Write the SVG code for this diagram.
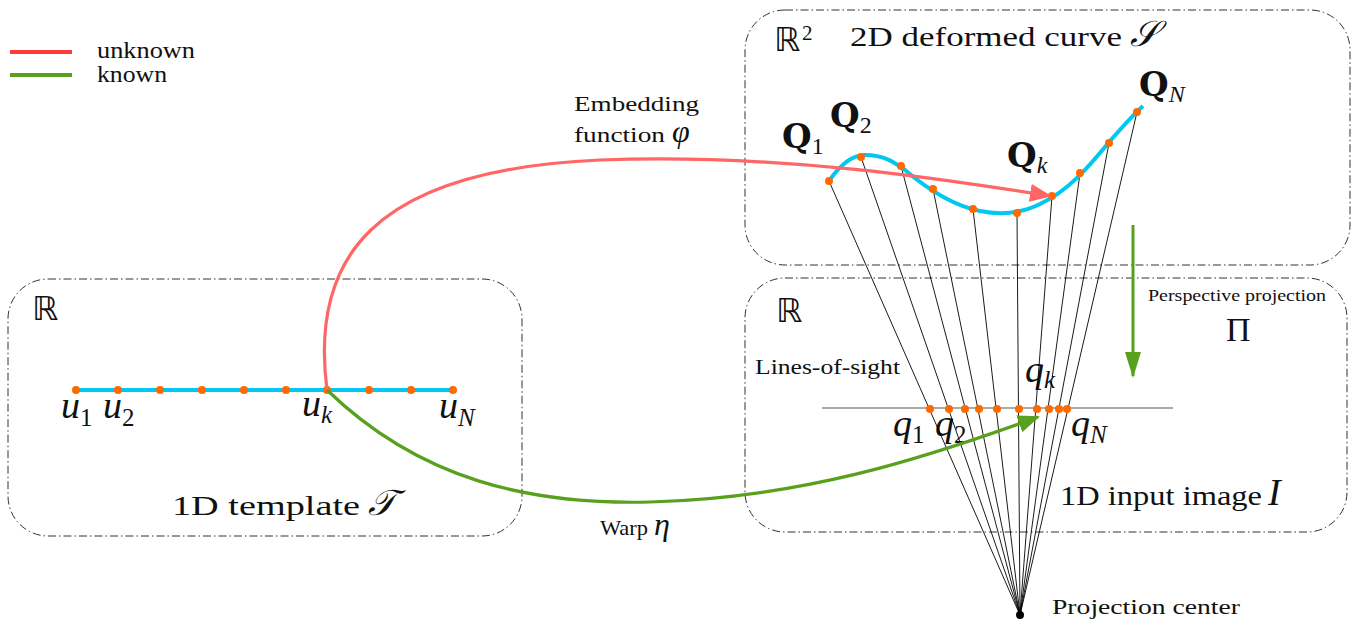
<svg xmlns="http://www.w3.org/2000/svg" width="1366" height="625" viewBox="0 0 1366 625">
<style>
.box{fill:none;stroke:#333;stroke-width:1;stroke-dasharray:8 3 1.5 3}
.t{font-family:"Liberation Serif",serif;fill:#111}
.m{font-family:"Liberation Serif",serif;font-style:italic;fill:#111}
.bb{font-family:"DejaVu Serif","Liberation Serif",serif;font-weight:bold;fill:#111}
.ds{font-family:"DejaVu Sans",sans-serif;fill:#111}
.dot{fill:#ff6a00}
.los{stroke:#000;stroke-width:0.9}
</style>
<defs>
<marker id="ahR" viewBox="0 0 22 18" refX="20" refY="9" markerWidth="22" markerHeight="18" markerUnits="userSpaceOnUse" orient="auto"><path d="M0,0 L22,9 L0,18 z" fill="#ff6666"/></marker>
<marker id="ahG" viewBox="0 0 22 18" refX="20" refY="9" markerWidth="22" markerHeight="18" markerUnits="userSpaceOnUse" orient="auto"><path d="M0,0 L22,9 L0,18 z" fill="#58a01e"/></marker>
<marker id="ahG2" viewBox="0 0 26 16" refX="24" refY="8" markerWidth="26" markerHeight="16" markerUnits="userSpaceOnUse" orient="auto"><path d="M0,0 L26,8 L0,16 z" fill="#58a01e"/></marker>
</defs>

<g id="legend">
<line x1="10" y1="52" x2="72" y2="52" stroke="#ff3b3b" stroke-width="4"/>
<line x1="10" y1="75" x2="72" y2="75" stroke="#58a01e" stroke-width="4"/>
<text class="t" x="97" y="58" font-size="23" textLength="98" lengthAdjust="spacingAndGlyphs">unknown</text>
<text class="t" x="97" y="82" font-size="23" textLength="70" lengthAdjust="spacingAndGlyphs">known</text>
</g>

<g id="deformed-curve">
<rect class="box" x="745" y="10" width="605" height="255" rx="40"/>
<text class="ds" x="774" y="51" font-size="33">ℝ</text>
<text class="t" x="802" y="40" font-size="21">2</text>
<text class="t" x="850" y="46" font-size="28" textLength="272" lengthAdjust="spacingAndGlyphs">2D deformed curve</text>
<text class="m" x="1130" y="46" font-size="36">𝒮</text>
</g>

<g id="template">
<rect class="box" x="8" y="279" width="514" height="257" rx="40"/>
<text class="ds" x="32" y="320" font-size="33">ℝ</text>
<line x1="76" y1="390" x2="453" y2="390" stroke="#00c8f0" stroke-width="4"/>
<g class="dot">
<circle cx="76" cy="390" r="4"/><circle cx="118" cy="390" r="4"/><circle cx="160" cy="390" r="4"/><circle cx="202" cy="390" r="4"/><circle cx="244" cy="390" r="4"/><circle cx="286" cy="390" r="4"/><circle cx="327" cy="390" r="4"/><circle cx="369" cy="390" r="4"/><circle cx="411" cy="390" r="4"/><circle cx="453" cy="390" r="4"/>
</g>
<text class="m" x="61" y="418" font-size="38">u<tspan font-size="25" font-style="normal" dy="8">1</tspan></text>
<text class="m" x="103" y="418" font-size="38">u<tspan font-size="25" font-style="normal" dy="8">2</tspan></text>
<text class="m" x="302" y="416" font-size="38">u<tspan font-size="25" dy="7">k</tspan></text>
<text class="m" x="439" y="418" font-size="38">u<tspan font-size="25" dy="8">N</tspan></text>
<text class="t" x="172" y="515" font-size="28" textLength="188" lengthAdjust="spacingAndGlyphs">1D template</text>
<text class="m" x="368" y="515" font-size="36">𝒯</text>
</g>

<g id="input-image">
<rect class="box" x="745" y="278" width="602" height="254" rx="40"/>
<text class="ds" x="776" y="322" font-size="33">ℝ</text>
<text class="t" x="755" y="374" font-size="21" textLength="145" lengthAdjust="spacingAndGlyphs">Lines-of-sight</text>
<line x1="822" y1="408" x2="1173" y2="408" stroke="#555" stroke-width="1.2"/>
<text class="m" x="893" y="436" font-size="38">q<tspan font-size="25" font-style="normal" dy="7">1</tspan></text>
<text class="m" x="935" y="436" font-size="38">q<tspan font-size="25" font-style="normal" dy="7">2</tspan></text>
<text class="m" x="1025" y="382" font-size="38">q<tspan font-size="25" dy="6">k</tspan></text>
<text class="m" x="1071" y="436" font-size="38">q<tspan font-size="25" dy="7">N</tspan></text>
<text class="t" x="1060" y="505" font-size="28" textLength="202" lengthAdjust="spacingAndGlyphs">1D input image</text>
<text class="m" x="1268" y="505" font-size="38">I</text>
</g>

<g id="connectors">
<g class="los">
<line x1="829" y1="181" x2="1020" y2="615"/>
<line x1="861" y1="157" x2="1020" y2="615"/>
<line x1="901" y1="166" x2="1020" y2="615"/>
<line x1="933" y1="189" x2="1020" y2="615"/>
<line x1="973" y1="209" x2="1020" y2="615"/>
<line x1="1017" y1="213" x2="1020" y2="615"/>
<line x1="1052" y1="196" x2="1020" y2="615"/>
<line x1="1080" y1="173" x2="1020" y2="615"/>
<line x1="1109" y1="143" x2="1020" y2="615"/>
<line x1="1137" y1="112" x2="1020" y2="615"/>
</g>
<path d="M829,181 C840,165 852,155 865,155 C885,155 895,163 905,170 C925,187 950,205 980,211 C1000,215 1020,214 1040,204 C1070,190 1090,165 1110,141 C1125,124 1135,113 1143,106" fill="none" stroke="#00c8f0" stroke-width="4"/>
<g class="dot">
<circle cx="829" cy="181" r="4"/><circle cx="861" cy="157" r="4"/><circle cx="901" cy="166" r="4"/><circle cx="933" cy="189" r="4"/><circle cx="973" cy="209" r="4"/><circle cx="1017" cy="213" r="4"/><circle cx="1052" cy="196" r="4"/><circle cx="1080" cy="173" r="4"/><circle cx="1109" cy="143" r="4"/><circle cx="1137" cy="112" r="4"/>
<circle cx="930" cy="409" r="4"/><circle cx="949" cy="409" r="4"/><circle cx="965" cy="409" r="4"/><circle cx="979" cy="409" r="4"/><circle cx="997" cy="409" r="4"/><circle cx="1019" cy="409" r="4"/><circle cx="1037" cy="409" r="4"/><circle cx="1049" cy="409" r="4"/><circle cx="1059" cy="409" r="4"/><circle cx="1067" cy="409" r="4"/>
</g>
<circle cx="1020" cy="615" r="4" fill="#000"/>
<path d="M327,390 C310,260 370,170 600,160 C780,153 950,180 1050,196" fill="none" stroke="#ff6666" stroke-width="3.2" marker-end="url(#ahR)"/>
<path d="M327,390 C420,480 530,505 650,502 C800,498 920,460 1038,417" fill="none" stroke="#58a01e" stroke-width="3.2" marker-end="url(#ahG)"/>
<line x1="1133" y1="225" x2="1133" y2="376" stroke="#58a01e" stroke-width="3" marker-end="url(#ahG2)"/>
</g>

<g id="labels">
<text class="bb" x="782" y="148" font-size="34">Q<tspan class="t" font-weight="normal" font-size="24" dy="6">1</tspan></text>
<text class="bb" x="830" y="127" font-size="34">Q<tspan class="t" font-weight="normal" font-size="24" dy="6">2</tspan></text>
<text class="bb" x="1007" y="167" font-size="34">Q<tspan class="m" font-weight="normal" font-size="24" dy="6">k</tspan></text>
<text class="bb" x="1139" y="96" font-size="34">Q<tspan class="m" font-weight="normal" font-size="24" dy="6">N</tspan></text>
<text class="t" x="574" y="111" font-size="22" textLength="125" lengthAdjust="spacingAndGlyphs">Embedding</text>
<text class="t" x="574" y="142" font-size="22" textLength="91" lengthAdjust="spacingAndGlyphs">function</text>
<text class="m" x="672" y="142" font-size="32">φ</text>
<text class="t" x="600" y="535" font-size="22" textLength="48" lengthAdjust="spacingAndGlyphs">Warp</text>
<text class="m" x="654" y="535" font-size="32">η</text>
<text class="t" x="1148" y="301" font-size="16" textLength="178" lengthAdjust="spacingAndGlyphs">Perspective projection</text>
<text class="t" x="1226" y="341" font-size="34">Π</text>
<text class="t" x="1052" y="614" font-size="22" textLength="188" lengthAdjust="spacingAndGlyphs">Projection center</text>
</g>
</svg>
